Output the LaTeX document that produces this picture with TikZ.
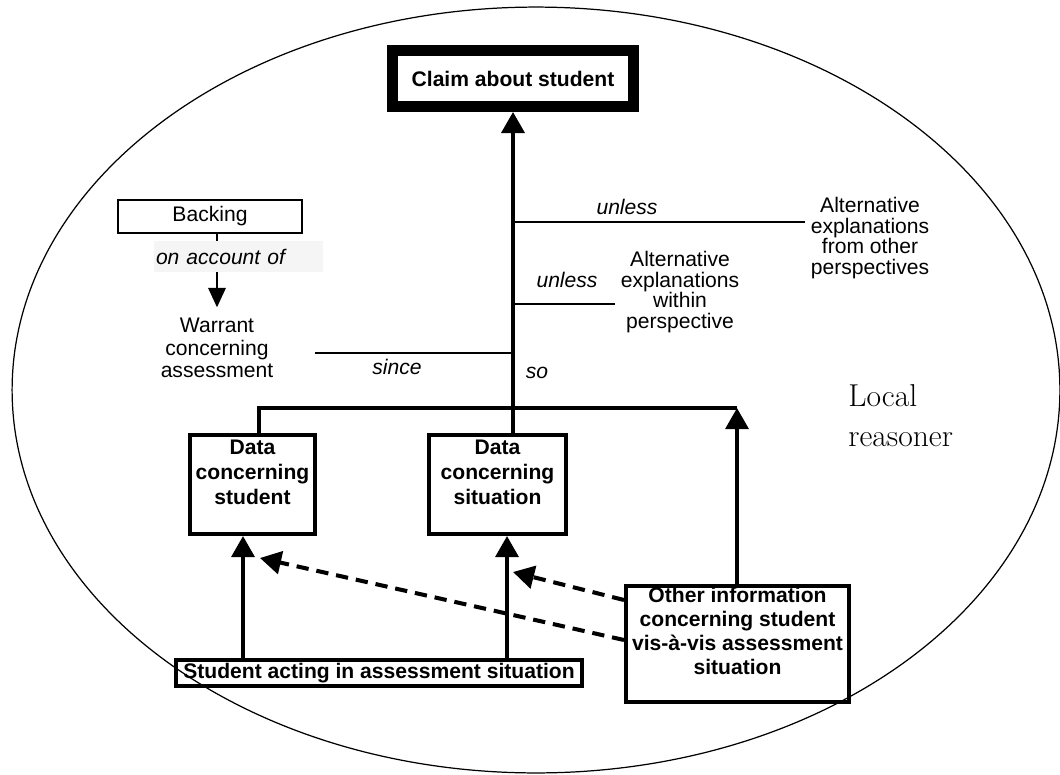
\documentclass[tikz,border=0pt]{standalone}
\usepackage{fontspec}
\setsansfont{Liberation Sans}
\usetikzlibrary{arrows.meta}
\newcommand{\boxtext}[4]{\parbox[c][#1][t]{#2}{\centering\bfseries\rule{0pt}{#3}#4}}
\tikzset{
  every node/.style={font=\sffamily\fontsize{12}{13}\selectfont},
  thickline/.style={line width=2.3pt},
  thinline/.style={line width=0.6pt},
  arr/.style={thickline,-{Triangle[length=12pt,width=13pt]}},
  dasharr/.style={arr,dash pattern=on 7pt off 4.5pt},
  thinarr/.style={line width=0.8pt,-{Triangle[length=11pt,width=10pt]}},
  claimbox/.style={draw,line width=6.2pt,minimum width=4.82cm,minimum height=1.12cm,inner sep=0pt,font=\sffamily\bfseries\fontsize{12}{13}\selectfont},
  databox/.style={draw,line width=2.3pt,inner sep=0pt,font=\sffamily\fontsize{12}{14.2}\selectfont},
  word/.style={font=\sffamily\itshape\fontsize{12}{13}\selectfont}
}
\begin{document}
\begin{tikzpicture}[x=0.02cm,y=-0.02cm]
\useasboundingbox (0,0) rectangle (1060,774);
\draw[line width=0.7pt] (536,390) ellipse [x radius=10.48cm,y radius=7.66cm];

% claim and data
\node[claimbox] (claim) at (513,78.5) {Claim about student};
\node[databox] (dstu) at (252.5,484.5) {\boxtext{1.98cm}{2.5cm}{11.3pt}{Data\\concerning\\student}};
\node[databox] (dsit) at (497.5,484.5) {\boxtext{1.98cm}{2.74cm}{11.3pt}{Data\\concerning\\situation}};
\node[databox,font=\sffamily\fontsize{12}{13.6}\selectfont] (oth) at (737.5,644) {\boxtext{2.32cm}{4.46cm}{9.6pt}{Other information\\concerning student\\vis-à-vis assessment\\situation}};
\node[draw,line width=2.3pt,minimum width=8.12cm,minimum height=0.52cm,inner sep=0pt,font=\sffamily\bfseries\fontsize{12}{13}\selectfont] (act) at (379,673) {Student acting in assessment situation};

% warrant and backing
\node[draw,line width=0.8pt,minimum width=3.68cm,minimum height=0.66cm,inner sep=0pt] (back) at (210,216.5) {Backing};
\node[align=center,inner ysep=6pt,font=\sffamily\fontsize{12}{12.8}\selectfont] (warr) at (217,348) {Warrant\\concerning\\assessment};
\draw[thinarr] (back.south -| warr.north) -- (warr.north);
\node[word,fill=black!4,text width=3.3cm,inner xsep=1pt,align=left,minimum height=0.62cm] (acc) at (238.5,256.5) {on account of};

% rebuttals
\node[align=center,font=\sffamily\fontsize{12}{11.7}\selectfont] (alto) at (870,238) {Alternative\\explanations\\from other\\perspectives};
\node[align=center,font=\sffamily\fontsize{12}{11.7}\selectfont] (altw) at (680,292) {Alternative\\explanations\\within\\perspective};

\coordinate (u1) at (513,222);
\coordinate (u2) at (513,304);
\coordinate (s0) at (315,353);
\coordinate (s1) at (513,353);
\coordinate (j1) at (259,408);
\coordinate (j2) at (513,408);
\coordinate (j3) at (737,408);
\coordinate (xa) at (243,0);
\coordinate (xb) at (507,0);
\coordinate (t1) at (513,572);
\coordinate (t2) at (260,558);

\draw[thinline] (u1) -- (u1 -| alto.west);
\draw[thinline] (u2) -- (u2 -| altw.west);
\draw[thinline] (s0) -- (s1);
\node[word] at (627,207) {unless};
\node[word] at (567,280) {unless};
\node[word] at (397,367) {since};
\node[word] at (537,373) {so};

% main arrows
\draw[arr] (dsit.north -| j2) -- (claim.south -| j2);
\draw[thickline] (dstu.north -| j1) |- (j3);
\draw[arr] (oth.north -| j3) -- (j3);
\draw[arr] (act.north -| xa) -- (dstu.south -| xa);
\draw[arr] (act.north -| xb) -- (dsit.south -| xb);
\draw[dasharr] ([yshift=0.88cm]oth.west) -- (t1);
\draw[dasharr] ([yshift=0.08cm]oth.west) -- (t2);

\node[anchor=north west,inner sep=0pt,align=left,font=\rmfamily\fontsize{18}{22.7}\selectfont] (loc) at (848,384) {Local\\reasoner};
\end{tikzpicture}
\end{document}
